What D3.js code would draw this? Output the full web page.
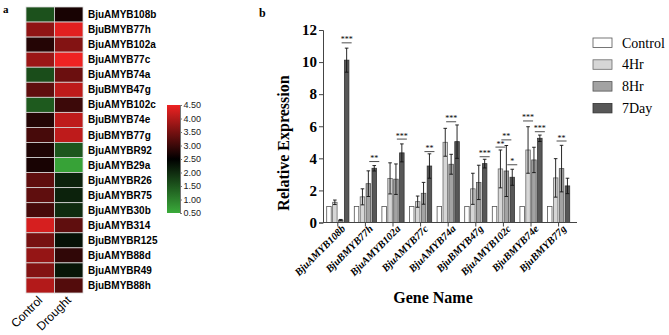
<!DOCTYPE html>
<html>
<head>
<meta charset="utf-8">
<script src="https://cdn.jsdelivr.net/npm/d3@7"></script>
<style>
body { margin: 0; background: #fff; }
</style>
</head>
<body>
<div id="chart-area"></div>
<script>
// heatmap data
var heatGenes = ["BjuAMYB108b", "BjuBMYB77h", "BjuAMYB102a", "BjuAMYB77c", "BjuAMYB74a",
    "BjuBMYB47g", "BjuAMYB102c", "BjuBMYB74e", "BjuBMYB77g", "BjuAMYBR92", "BjuAMYB29a",
    "BjuAMYBR26", "BjuAMYBR75", "BjuAMYB30b", "BjuAMYB314", "BjuBMYBR125", "BjuAMYB88d",
    "BjuAMYBR49", "BjuBMYB88h"];
var heatConditions = ["Control", "Drought"];
var heatControl = [1.55, 3.7, 2.8, 3.8, 1.6, 3.3, 1.45, 2.8, 3.1, 2.75, 2.7, 3.3, 3.3, 3.1, 4.3, 3.5, 3.75, 3.6, 4.0];
var heatDrought = [2.7, 4.4, 3.6, 4.5, 3.4, 4.1, 3.0, 4.1, 4.1, 1.5, 0.6, 2.1, 2.1, 2.0, 3.3, 2.3, 2.9, 2.25, 3.2];
var colorTicks = [0.5, 1.0, 1.5, 2.0, 2.5, 3.0, 3.5, 4.0, 4.5];

// bar chart data
var barGenes = ["BjuAMYB108b", "BjuBMYB77h", "BjuAMYB102a", "BjuAMYB77c", "BjuAMYB74a",
    "BjuBMYB47g", "BjuAMYB102c", "BjuBMYB74e", "BjuBMYB77g"];
var series = ["Control", "4Hr", "8Hr", "7Day"];
var control = [1, 1, 1, 1, 1, 1, 1, 1, 1];
var hr4 = [1.26, 1.6, 2.75, 1.3, 5.0, 2.1, 3.34, 4.52, 2.78];
var hr8 = [0.15, 2.42, 2.7, 1.82, 3.63, 2.5, 3.21, 3.9, 3.36];
var day7 = [10.12, 3.38, 4.34, 3.52, 5.04, 3.67, 2.82, 5.25, 2.28];
var errControl = [0, 0, 0, 0, 0, 0, 0, 0, 0];
var err4 = [0.14, 0.5, 0.97, 0.35, 0.87, 0.97, 1.18, 1.45, 1.2];
var err8 = [0.04, 0.8, 0.95, 0.68, 0.62, 1.07, 1.59, 0.79, 1.45];
var err7 = [0.75, 0.17, 0.56, 0.76, 1.04, 0.27, 0.5, 0.2, 0.48];
var yTicks = [0, 2, 4, 6, 8, 10, 12];
// significance marks: gene, series index, label, level (relative expression)
var marks = [
    ["BjuAMYB108b", 3, "***", 11.2],
    ["BjuBMYB77h", 3, "**", 3.8],
    ["BjuAMYB102a", 3, "***", 5.2],
    ["BjuAMYB77c", 3, "**", 4.42],
    ["BjuAMYB74a", 2, "***", 6.28],
    ["BjuBMYB47g", 3, "***", 4.1],
    ["BjuAMYB102c", 1, "**", 4.7],
    ["BjuAMYB102c", 2, "**", 5.15],
    ["BjuAMYB102c", 3, "*", 3.6],
    ["BjuBMYB74e", 1, "***", 6.33],
    ["BjuBMYB74e", 3, "***", 5.66],
    ["BjuBMYB77g", 2, "**", 5.08]
];

var width = 669;
var height = 335;

var svg = d3.select("#chart-area").append("svg")
    .attr("width", width)
    .attr("height", height);

// ---------- panel a: heatmap ----------
var heat = svg.append("g");

var hx = d3.scaleBand().domain(heatConditions).range([26, 83]);
var hy = d3.scaleBand().domain(heatGenes).range([7, 293]);

var heatColor = d3.scaleLinear()
    .domain([0.5, 2.5, 4.5])
    .range(["#3aab3a", "#000000", "#ee2222"]);

var cells = [];
heatGenes.forEach((g, i) => {
    cells.push({ gene: g, cond: "Control", v: heatControl[i] });
    cells.push({ gene: g, cond: "Drought", v: heatDrought[i] });
});

heat.selectAll("rect.cell")
    .data(cells)
    .enter()
    .append("rect")
        .attr("class", "cell")
        .attr("x", (d) => hx(d.cond))
        .attr("y", (d) => hy(d.gene))
        .attr("width", hx.bandwidth())
        .attr("height", hy.bandwidth())
        .attr("fill", (d) => heatColor(d.v))
        .attr("stroke", "#d8d8d8")
        .attr("stroke-width", 0.8);

heat.selectAll("text.gene")
    .data(heatGenes)
    .enter()
    .append("text")
        .attr("class", "gene")
        .attr("x", 88)
        .attr("y", (d) => hy(d) + hy.bandwidth() / 2 + 3.6)
        .attr("font-family", "Liberation Sans, Arial, sans-serif")
        .attr("font-weight", "bold")
        .attr("font-size", 10)
        .text((d) => d);

heat.selectAll("text.cond")
    .data(heatConditions)
    .enter()
    .append("text")
        .attr("class", "cond")
        .attr("text-anchor", "end")
        .attr("transform", (d) => "translate(" + (hx(d) + hx.bandwidth() / 2 + 3) + ", 301) rotate(-45)")
        .attr("font-family", "Liberation Sans, Arial, sans-serif")
        .attr("font-size", 12)
        .text((d) => d);

// colour bar
var cb = svg.append("g");
var cy = d3.scaleLinear().domain([0.5, 4.5]).range([213, 105]);
var defs = svg.append("defs");
var grad = defs.append("linearGradient")
    .attr("id", "heatgrad")
    .attr("x1", 0).attr("y1", 1).attr("x2", 0).attr("y2", 0);
grad.selectAll("stop")
    .data(colorTicks)
    .enter()
    .append("stop")
        .attr("offset", (d) => (d - 0.5) / 4)
        .attr("stop-color", (d) => heatColor(d));

cb.append("rect")
    .attr("x", 167)
    .attr("y", cy(4.5))
    .attr("width", 13)
    .attr("height", cy(0.5) - cy(4.5))
    .attr("fill", "url(#heatgrad)");

var cbAxis = cb.append("g")
    .attr("transform", "translate(180, 0)")
    .call(d3.axisRight(cy).tickValues(colorTicks).tickFormat(d3.format(".2f")).tickSize(2).tickPadding(1.5));
cbAxis.select(".domain").attr("stroke", "#777");
cbAxis.selectAll("line").attr("stroke", "#777");
cbAxis.selectAll("text")
    .attr("font-family", "Liberation Sans, Arial, sans-serif")
    .attr("font-size", 9)
    .attr("fill", "#222");

svg.append("text")
    .attr("x", 3)
    .attr("y", 13)
    .attr("font-family", "Liberation Serif, Times New Roman, serif")
    .attr("font-weight", "bold")
    .attr("font-size", 11)
    .text("a");

// ---------- panel b: bar chart ----------
var g = svg.append("g");

var x = d3.scaleBand()
    .domain(barGenes)
    .range([324, 572.4]);

var y = d3.scaleLinear()
    .domain([0, 12])
    .range([222.5, 30]);

var fills = ["#ffffff", "#d6d6d6", "#a3a3a3", "#575757"];
var strokes = ["#555555", "#6a6a6a", "#555555", "#333333"];
var barW = 4.5;
var barStep = 5.9;
var values = [control, hr4, hr8, day7];
var errors = [errControl, err4, err8, err7];

var bars = [];
barGenes.forEach((gene, i) => {
    series.forEach((s, j) => {
        bars.push({ gene: gene, s: j, v: values[j][i], e: errors[j][i] });
    });
});

function barCenter(gene, s) {
    return x(gene) + x.bandwidth() / 2 + (s - 1.5) * barStep;
}

g.selectAll("rect.bar")
    .data(bars)
    .enter()
    .append("rect")
        .attr("class", "bar")
        .attr("x", (d) => barCenter(d.gene, d.s) - barW / 2)
        .attr("y", (d) => y(d.v))
        .attr("width", barW)
        .attr("height", (d) => y(0) - y(d.v))
        .attr("fill", (d) => fills[d.s])
        .attr("stroke", (d) => strokes[d.s])
        .attr("stroke-width", 0.8);

// error bars
var errs = g.selectAll("g.err")
    .data(bars.filter((d) => d.e > 0))
    .enter()
    .append("g")
        .attr("class", "err")
        .attr("stroke", "#111")
        .attr("stroke-width", 0.9);
errs.append("line")
    .attr("x1", (d) => barCenter(d.gene, d.s))
    .attr("x2", (d) => barCenter(d.gene, d.s))
    .attr("y1", (d) => y(Math.max(0, d.v - d.e)))
    .attr("y2", (d) => y(d.v + d.e));
errs.append("line")
    .attr("x1", (d) => barCenter(d.gene, d.s) - 1.8)
    .attr("x2", (d) => barCenter(d.gene, d.s) + 1.8)
    .attr("y1", (d) => y(d.v + d.e))
    .attr("y2", (d) => y(d.v + d.e));
errs.append("line")
    .attr("x1", (d) => barCenter(d.gene, d.s) - 1.8)
    .attr("x2", (d) => barCenter(d.gene, d.s) + 1.8)
    .attr("y1", (d) => y(Math.max(0, d.v - d.e)))
    .attr("y2", (d) => y(Math.max(0, d.v - d.e)));

// significance marks
var sig = g.selectAll("g.sig")
    .data(marks)
    .enter()
    .append("g")
        .attr("class", "sig");
sig.append("line")
    .attr("x1", (d) => barCenter(d[0], d[1]) - 5)
    .attr("x2", (d) => barCenter(d[0], d[1]) + 5)
    .attr("y1", (d) => y(d[3]))
    .attr("y2", (d) => y(d[3]))
    .attr("stroke", "#222")
    .attr("stroke-width", 0.8);
sig.append("text")
    .attr("x", (d) => barCenter(d[0], d[1]))
    .attr("y", (d) => y(d[3]) - 0.5)
    .attr("text-anchor", "middle")
    .attr("font-family", "Liberation Serif, Times New Roman, serif")
    .attr("font-size", 8)
    .text((d) => d[2]);

// y Axis
var yAxis = g.append("g")
    .attr("transform", "translate(323, 0)")
    .call(d3.axisLeft(y).tickValues(yTicks).tickSize(4).tickPadding(2));
yAxis.select(".domain").attr("stroke", "#444");
yAxis.selectAll("line").attr("stroke", "#444");
yAxis.selectAll("text")
    .attr("font-family", "Liberation Serif, Times New Roman, serif")
    .attr("font-weight", "bold")
    .attr("font-size", 15)
    .attr("fill", "#000");

// x Axis
var xAxis = g.append("g")
    .attr("transform", "translate(0, " + y(0) + ")")
    .call(d3.axisBottom(x).tickSize(4).tickSizeOuter(0));
xAxis.select(".domain").remove();
xAxis.append("line")
    .attr("x1", 323)
    .attr("x2", 577)
    .attr("stroke", "#444");
xAxis.selectAll("line").attr("stroke", "#444");
xAxis.selectAll(".tick text")
    .attr("x", 1)
    .attr("y", 7)
    .attr("dy", "0.35em")
    .attr("text-anchor", "end")
    .attr("transform", "rotate(-45)")
    .attr("font-family", "Liberation Serif, Times New Roman, serif")
    .attr("font-style", "italic")
    .attr("font-weight", "bold")
    .attr("font-size", 10.5)
    .attr("fill", "#000");

// labels
g.append("text")
    .attr("x", 433)
    .attr("y", 303)
    .attr("text-anchor", "middle")
    .attr("font-family", "Liberation Serif, Times New Roman, serif")
    .attr("font-weight", "bold")
    .attr("font-size", 16)
    .text("Gene Name");

g.append("text")
    .attr("transform", "translate(289, 143) rotate(-90)")
    .attr("text-anchor", "middle")
    .attr("font-family", "Liberation Serif, Times New Roman, serif")
    .attr("font-weight", "bold")
    .attr("font-size", 16)
    .text("Relative Expression");

svg.append("text")
    .attr("x", 259)
    .attr("y", 17)
    .attr("font-family", "Liberation Serif, Times New Roman, serif")
    .attr("font-weight", "bold")
    .attr("font-size", 12)
    .text("b");

// legend
var legend = svg.append("g")
    .attr("transform", "translate(593, 38)");
var items = legend.selectAll("g")
    .data(series)
    .enter()
    .append("g")
        .attr("transform", (d, i) => "translate(0, " + (i * 21.8) + ")");
items.append("rect")
    .attr("width", 19)
    .attr("height", 9.5)
    .attr("fill", (d, i) => fills[i])
    .attr("stroke", (d, i) => strokes[i])
    .attr("stroke-width", 0.8);
items.append("text")
    .attr("x", 29)
    .attr("y", 9.5)
    .attr("font-family", "Liberation Serif, Times New Roman, serif")
    .attr("font-size", 14)
    .text((d) => d);
</script>
</body>
</html>
